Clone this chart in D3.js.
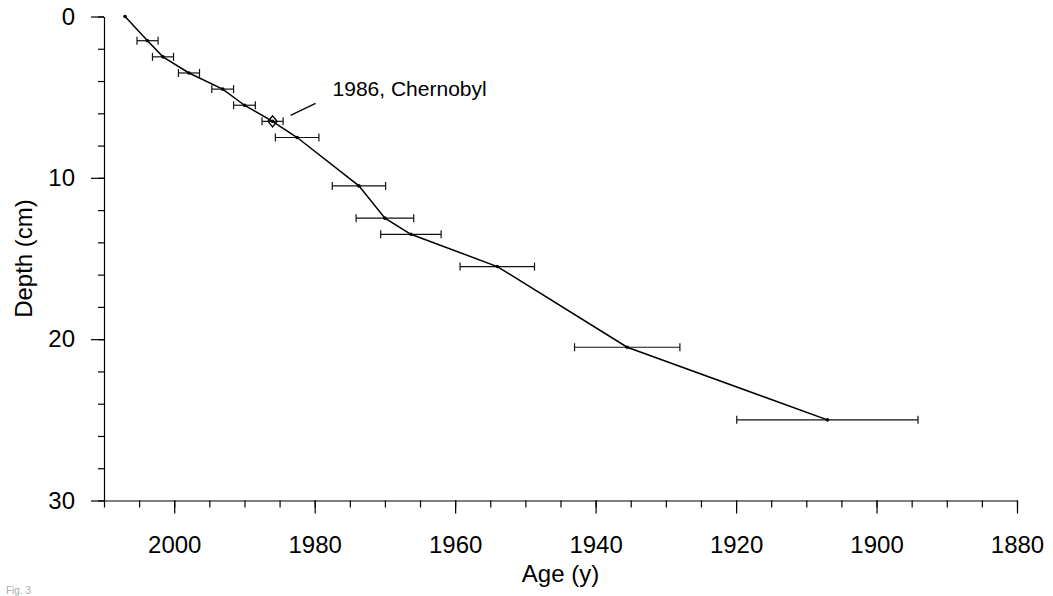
<!DOCTYPE html>
<html>
<head>
<meta charset="utf-8">
<script src="https://cdn.jsdelivr.net/npm/d3@7"></script>
<style>
  body { margin: 0; background: #fff; }
  svg { display: block; }
  text { font-family: "Liberation Sans", Arial, sans-serif; fill: #000; }
</style>
</head>
<body>
<svg id="container" width="1053" height="596"></svg>
<script>
// dated core samples
const ages = [2007, 2003.8, 2001.6, 1997.9, 1993.1, 1990.0, 1986.0, 1982.5, 1973.7, 1970.0, 1966.3, 1954.0, 1935.5, 1907.0];
const depths = [0, 1.5, 2.5, 3.5, 4.5, 5.5, 6.5, 7.5, 10.5, 12.5, 13.5, 15.5, 20.5, 25];
const errors = [0, 1.5, 1.5, 1.5, 1.55, 1.55, 1.5, 3.1, 3.8, 4.1, 4.3, 5.3, 7.5, 12.9];

const xTicks = [2000, 1980, 1960, 1940, 1920, 1900, 1880];
const yTicks = [0, 10, 20, 30];
const chernobyl = { age: 1986, depth: 6.5, label: '1986, Chernobyl' };

const data = ages.map((a, i) => ({ age: a, depth: depths[i], err: errors[i] }));

const svg = d3.select('#container');

const x = d3.scaleLinear().domain([2010, 1880]).range([104, 1017]);
const y = d3.scaleLinear().domain([0, 30]).range([16.5, 500.5]);

// axes
const xMinor = d3.range(2010, 1879, -5);
const yMinor = d3.range(0, 31, 2);

svg.append('g')
  .attr('transform', `translate(0,${y(30)})`)
  .call(d3.axisBottom(x).tickValues(xMinor).tickSize(7).tickSizeOuter(0).tickFormat(''))
  .call((g) => g.select('.domain').remove());

svg.append('g')
  .attr('transform', `translate(0,${y(30)})`)
  .call(d3.axisBottom(x).tickValues(xTicks).tickSize(13).tickSizeOuter(0).tickPadding(22).tickFormat(d3.format('d')))
  .call((g) => g.selectAll('text').attr('font-size', 24).attr('font-family', null));

svg.append('g')
  .attr('transform', `translate(${x(2010)},0)`)
  .call(d3.axisLeft(y).tickValues(yMinor).tickSize(6).tickSizeOuter(0).tickFormat(''))
  .call((g) => g.select('.domain').remove());

svg.append('g')
  .attr('transform', `translate(${x(2010)},0)`)
  .call(d3.axisLeft(y).tickValues(yTicks).tickSize(13).tickSizeOuter(0).tickPadding(16))
  .call((g) => g.selectAll('text').attr('font-size', 24).attr('font-family', null));

svg.selectAll('.domain, .tick line').attr('stroke', '#000').attr('stroke-width', 1.2);

// titles
svg.append('text')
  .attr('x', (x(2010) + x(1880)) / 2)
  .attr('y', 582)
  .attr('text-anchor', 'middle')
  .attr('font-size', 24)
  .text('Age (y)');

svg.append('text')
  .attr('transform', `translate(32,${(y(0) + y(30)) / 2}) rotate(-90)`)
  .attr('text-anchor', 'middle')
  .attr('font-size', 24)
  .text('Depth (cm)');

// error bars
const bars = svg.append('g').attr('stroke', '#111').attr('stroke-width', 1.2);
const withErr = data.filter((d) => d.err > 0);

bars.selectAll('.eb')
  .data(withErr)
  .join('line')
  .attr('x1', (d) => x(d.age + d.err))
  .attr('x2', (d) => x(d.age - d.err))
  .attr('y1', (d) => y(d.depth))
  .attr('y2', (d) => y(d.depth));

bars.selectAll('.capL')
  .data(withErr)
  .join('line')
  .attr('x1', (d) => x(d.age + d.err))
  .attr('x2', (d) => x(d.age + d.err))
  .attr('y1', (d) => y(d.depth) - 4)
  .attr('y2', (d) => y(d.depth) + 4);

bars.selectAll('.capR')
  .data(withErr)
  .join('line')
  .attr('x1', (d) => x(d.age - d.err))
  .attr('x2', (d) => x(d.age - d.err))
  .attr('y1', (d) => y(d.depth) - 4)
  .attr('y2', (d) => y(d.depth) + 4);

// age-depth line
svg.append('path')
  .datum(data)
  .attr('fill', 'none')
  .attr('stroke', '#000')
  .attr('stroke-width', 1.5)
  .attr('d', d3.line().x((d) => x(d.age)).y((d) => y(d.depth)));

svg.selectAll('.pt')
  .data(data)
  .join('circle')
  .attr('cx', (d) => x(d.age))
  .attr('cy', (d) => y(d.depth))
  .attr('r', 1.8)
  .attr('fill', '#000');

// Chernobyl marker
const cx = x(chernobyl.age);
const cy = y(chernobyl.depth);
svg.append('path')
  .attr('d', `M${cx},${cy - 5.5}L${cx + 4.5},${cy}L${cx},${cy + 5.5}L${cx - 4.5},${cy}Z`)
  .attr('fill', 'none')
  .attr('stroke', '#000')
  .attr('stroke-width', 1.4);

svg.append('line')
  .attr('x1', cx + 18).attr('y1', cy - 6)
  .attr('x2', cx + 43).attr('y2', cy - 18)
  .attr('stroke', '#000')
  .attr('stroke-width', 1.2);

svg.append('text')
  .attr('x', cx + 60)
  .attr('y', cy - 25)
  .attr('font-size', 21)
  .text(chernobyl.label);

// figure caption from the page, mostly below the picture in the source
svg.append('text')
  .attr('x', 6)
  .attr('y', 594)
  .attr('font-family', '"Liberation Serif", serif')
  .attr('font-size', 10)
  .style('fill', '#aaa')
  .text('Fig. 3');
</script>
</body>
</html>
